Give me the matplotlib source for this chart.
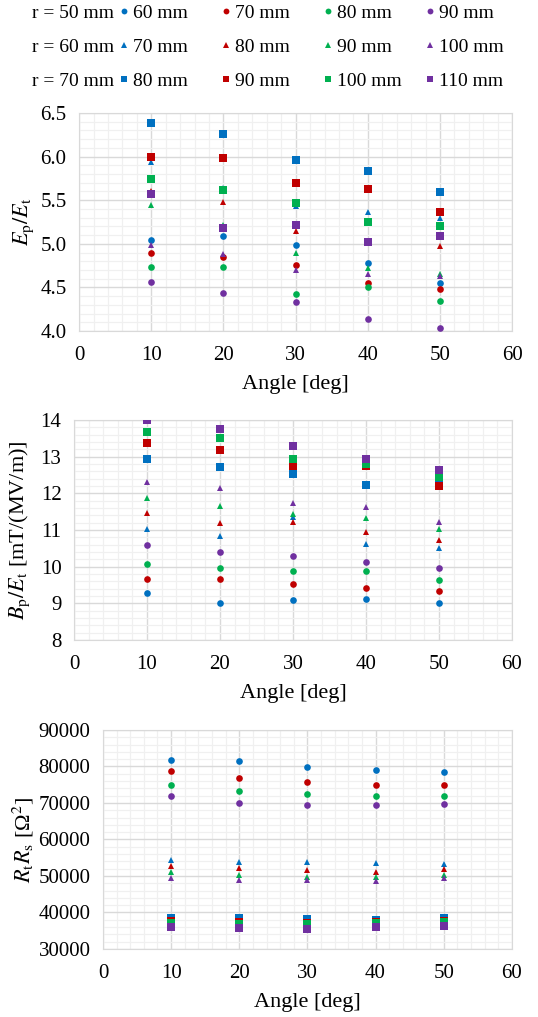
import matplotlib
matplotlib.use('Agg')
import matplotlib.pyplot as plt
from matplotlib.lines import Line2D
from matplotlib.ticker import MultipleLocator, FormatStrFormatter

plt.rcParams['font.family'] = ['Liberation Serif', 'DejaVu Serif']
plt.rcParams['mathtext.fontset'] = 'stix'

angles = [10, 20, 30, 40, 50]

colors = ['#0070C0', '#C00000', '#00B050', '#7030A0']
markers = ['o', '^', 's']
msizes = [4.8, 5.0, 5.1]

group_labels = ['r = 50 mm', 'r = 60 mm', 'r = 70 mm']
series_labels = [['60 mm', '70 mm', '80 mm', '90 mm'],
                 ['70 mm', '80 mm', '90 mm', '100 mm'],
                 ['80 mm', '90 mm', '100 mm', '110 mm']]

# Ep/Et
ep_r50 = [[5.04, 5.09, 4.99, 4.78, 4.55],
          [4.90, 4.85, 4.76, 4.55, 4.48],
          [4.73, 4.73, 4.43, 4.50, 4.35],
          [4.56, 4.44, 4.33, 4.14, 4.03]]
ep_r60 = [[5.94, 5.64, 5.43, 5.37, 5.30],
          [5.60, 5.48, 5.15, 5.26, 4.97],
          [5.45, 5.21, 4.89, 4.72, 4.65],
          [4.99, 4.88, 4.70, 4.65, 4.63]]
ep_r70 = [[6.39, 6.26, 5.96, 5.83, 5.59],
          [6.00, 5.98, 5.70, 5.63, 5.37],
          [5.74, 5.62, 5.47, 5.25, 5.20],
          [5.57, 5.18, 5.21, 5.02, 5.09]]

# Bp/Et
bp_r50 = [[9.29, 9.02, 9.08, 9.13, 9.02],
          [9.67, 9.67, 9.53, 9.42, 9.34],
          [10.07, 9.97, 9.88, 9.87, 9.63],
          [10.59, 10.41, 10.30, 10.12, 9.97]]
bp_r60 = [[11.02, 10.85, 11.36, 10.61, 10.50],
          [11.47, 11.19, 11.22, 10.94, 10.74],
          [11.86, 11.66, 11.45, 11.33, 11.04],
          [12.30, 12.14, 11.73, 11.64, 11.22]]
bp_r70 = [[12.93, 12.71, 12.52, 12.22, 12.32],
          [13.36, 13.17, 12.74, 12.75, 12.20],
          [13.67, 13.50, 12.95, 12.80, 12.45],
          [13.99, 13.75, 13.28, 12.95, 12.63]]

# Rt*Rs
rr_r50 = [[81900, 81600, 79800, 79000, 78600],
          [78800, 76900, 75700, 75000, 74900],
          [74800, 73200, 72400, 72000, 72000],
          [71800, 70100, 69500, 69500, 69800]]
rr_r60 = [[54300, 53800, 53700, 53500, 53300],
          [52600, 52200, 51600, 51200, 51800],
          [51100, 50300, 49800, 49800, 50300],
          [49400, 48800, 48800, 48500, 49400]]
rr_r70 = [[38400, 38400, 38100, 38000, 38400],
          [37700, 37500, 37200, 37500, 37700],
          [37100, 36900, 36800, 37200, 37300],
          [36000, 35700, 35500, 35900, 36400]]

panels = [
    dict(data=[ep_r50, ep_r60, ep_r70], ylim=(4.0, 6.5), major=0.5, minor=0.1, fmt='%.1f',
         ylabel=r'$E_\mathrm{p}/E_\mathrm{t}$', pos=[0.147, 0.6745, 0.805, 0.2144], ylx=-0.10),
    dict(data=[bp_r50, bp_r60, bp_r70], ylim=(8, 14), major=1, minor=0.2, fmt='%d',
         ylabel=r'$B_\mathrm{p}/E_\mathrm{t}$ [mT/(MV/m)]', pos=[0.1375, 0.3707, 0.814, 0.2163], ylx=-0.095),
    dict(data=[rr_r50, rr_r60, rr_r70], ylim=(30000, 90000), major=10000, minor=2000, fmt='%d',
         ylabel=r'$R_\mathrm{t}R_\mathrm{s}$ [Ω$^2$]', pos=[0.1914, 0.0669, 0.760, 0.2153], ylx=-0.165),
]

fig = plt.figure(figsize=(5.38, 10.17), dpi=100)

for p in panels:
    ax = fig.add_axes(p['pos'])
    for g, group in enumerate(p['data']):
        for c, vals in enumerate(group):
            ax.plot(angles, vals, ls='none', marker=markers[g], ms=msizes[g],
                    color=colors[c], mew=0, zorder=3)
    ax.set_xlim(0, 60)
    ax.set_ylim(*p['ylim'])
    ax.xaxis.set_major_locator(MultipleLocator(10))
    ax.xaxis.set_minor_locator(MultipleLocator(2))
    ax.yaxis.set_major_locator(MultipleLocator(p['major']))
    ax.yaxis.set_minor_locator(MultipleLocator(p['minor']))
    ax.yaxis.set_major_formatter(FormatStrFormatter(p['fmt']))
    ax.grid(which='major', color='#D9D9D9', lw=1.0, zorder=1)
    ax.grid(which='minor', color='#F0F0F0', lw=0.9, zorder=0)
    ax.set_axisbelow(True)
    for s in ax.spines.values():
        s.set_color('#D9D9D9')
    ax.tick_params(which='both', length=0, labelsize=15)
    ax.tick_params(axis='x', pad=11)
    ax.tick_params(axis='y', pad=9)
    ax.set_xlabel('Angle [deg]', fontsize=16)
    ax.xaxis.set_label_coords(0.5, -0.2)
    ax.set_ylabel(p['ylabel'], fontsize=16)
    ax.yaxis.set_label_coords(p['ylx'], 0.5)

# legend: one column per colour, row labels as text
row_y = [13, 47, 80]
col_x = [124, 226, 328, 430]
H = 1017.0
W = 538.0
for g in range(3):
    fig.text(114 / W, 1 - (row_y[g] + (1.5 if g == 2 else 0)) / H, group_labels[g],
             ha='right', va='center', fontsize=14)
for c in range(4):
    handles = [Line2D([], [], ls='none', marker=markers[g], ms=msizes[g] - 0.6,
                      color=colors[c], mew=0) for g in range(3)]
    labels = [series_labels[g][c] for g in range(3)]
    fig.legend(handles, labels, loc='center left',
               bbox_to_anchor=((col_x[c] - 5) / W, 1 - row_y[1] / H),
               frameon=False, fontsize=14, handlelength=0.5, handletextpad=0.2,
               borderpad=0, borderaxespad=0, labelspacing=0.84)

fig.savefig('out.png', dpi=100)
